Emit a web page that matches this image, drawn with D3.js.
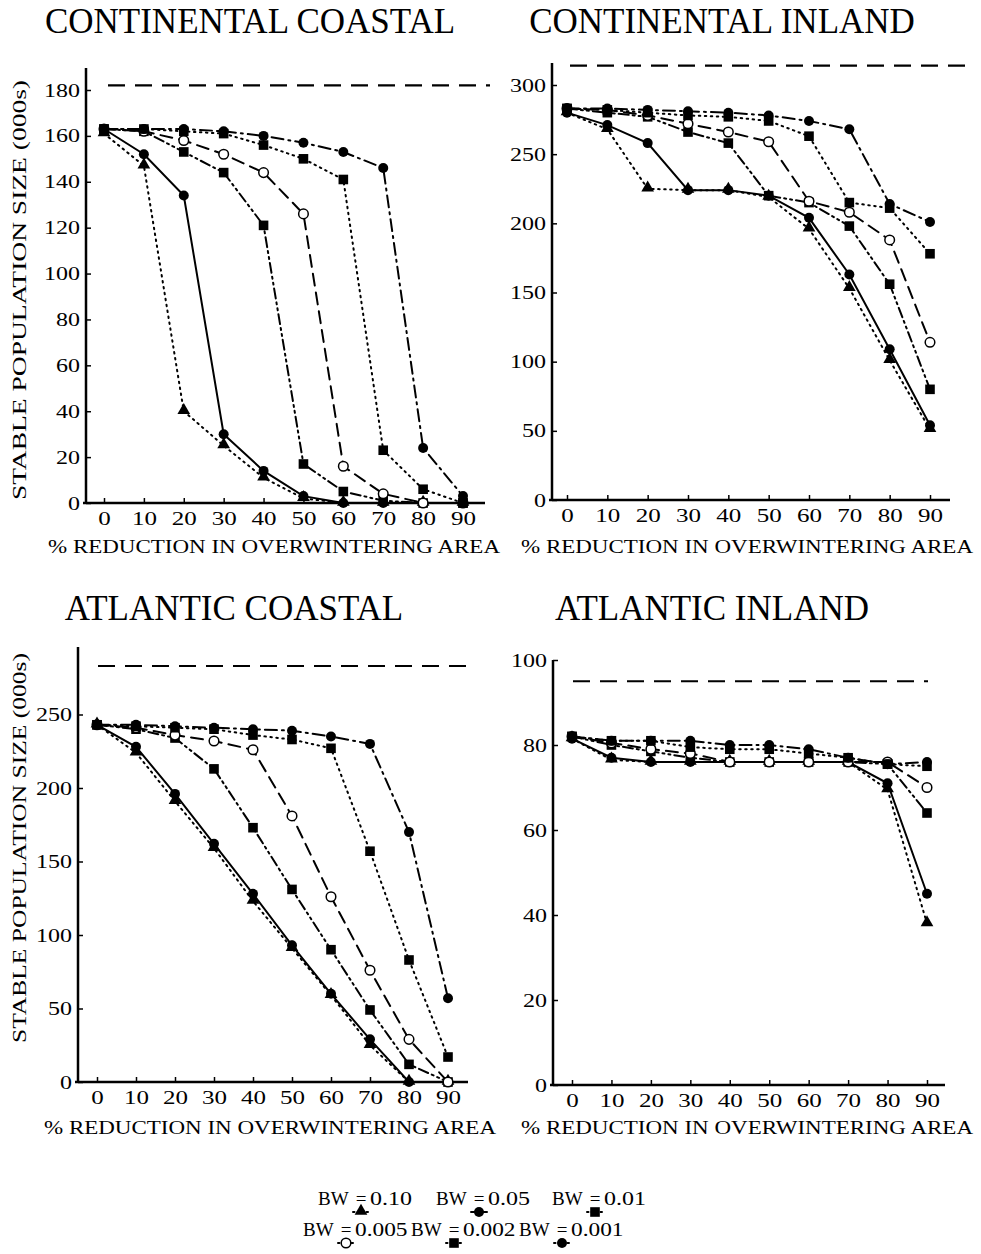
<!DOCTYPE html>
<html lang="en">
<head>
<meta charset="utf-8">
<title>Stable population size vs reduction in overwintering area</title>
<script src="https://d3js.org/d3.v7.min.js"></script>
<style>
  body { margin: 0; background: #fff; }
  svg { display: block; font-family: "Liberation Serif", "Times New Roman", serif; }
  .title { font-size: 35px; }
  .axis-label { font-size: 19px; }
  .tick text { font-size: 19px; font-family: "Liberation Serif", serif; }
  .tick line { stroke: #000; stroke-width: 1.5; }
  .series { fill: none; stroke: #000; stroke-width: 2; stroke-linecap: round; }
  .capacity { stroke: #000; stroke-width: 2.2; stroke-dasharray: 17,10; }
  .legend text { font-size: 19px; }
</style>
</head>
<body>
<svg width="981" height="1254"></svg>
<script>

// x values: % reduction in overwintering area
var reduction = [0, 10, 20, 30, 40, 50, 60, 70, 80, 90];
var bwLabels = ["0.10", "0.05", "0.01", "0.005", "0.002", "0.001"];

// Continental coastal (000s)
var ccBW010  = [161, 147, 40, 25, 11, 2, 0, 0, 0, 0];
var ccBW005  = [163, 152, 134, 30, 14, 3, 0, 0, 0, 0];
var ccBW001  = [163, 162, 153, 144, 121, 17, 5, 1, 0, 0];
var ccBW0005 = [163, 162, 158, 152, 144, 126, 16, 4, 0, 0];
var ccBW0002 = [163, 163, 162, 161, 156, 150, 141, 23, 6, 0];
var ccBW0001 = [163, 163, 163, 162, 160, 157, 153, 146, 24, 3];

// Continental inland
var ciBW010  = [280, 268, 225, 224, 224, 219, 196, 153, 101, 51];
var ciBW005  = [280, 271, 258, 224, 224, 220, 204, 163, 109, 54];
var ciBW001  = [283, 280, 277, 266, 258, 220, 215, 198, 156, 80];
var ciBW0005 = [283, 282, 278, 272, 266, 259, 216, 208, 188, 114];
var ciBW0002 = [283, 282, 280, 278, 277, 274, 263, 215, 211, 178];
var ciBW0001 = [283, 283, 282, 281, 280, 278, 274, 268, 214, 201];

// Atlantic coastal
var acBW010  = [243, 224, 191, 159, 123, 91, 59, 25, 0, 0];
var acBW005  = [243, 228, 196, 162, 128, 93, 60, 29, 0, 0];
var acBW001  = [243, 240, 234, 213, 173, 131, 90, 49, 12, 0];
var acBW0005 = [243, 241, 236, 232, 226, 181, 126, 76, 29, 0];
var acBW0002 = [243, 242, 241, 240, 236, 233, 227, 157, 83, 17];
var acBW0001 = [243, 243, 242, 241, 240, 239, 235, 230, 170, 57];

// Atlantic inland
var aiBW010  = [81.5, 76.5, 76, 76, 76, 76, 76, 76, 69.5, 38];
var aiBW005  = [81.5, 77, 76, 76, 76, 76, 76, 76, 71, 45];
var aiBW001  = [82, 80, 78.5, 77, 76, 76, 76, 76, 75.5, 64];
var aiBW0005 = [82, 80.5, 79, 78, 76, 76, 76, 76, 76, 70];
var aiBW0002 = [82, 81, 81, 79.5, 79, 79, 78, 77, 75.5, 75];
var aiBW0001 = [82, 81, 81, 81, 80, 80, 79, 77, 75.5, 76];

// dashed reference level per panel
var capacity = [182, 314, 283, 95];

// line style + marker for each BW
var seriesDash = ["1.5,4.5", null, "10,4,2,4,2,4", "12,7", "1.5,4.5", "12,5,2,5"];
var seriesMarker = ["triangle", "circle", "square", "open", "square", "circle"];

var svg = d3.select("svg");

// panel layout (pixels)
var panels = [
  { title: "CONTINENTAL COASTAL", data: [ccBW010, ccBW005, ccBW001, ccBW0005, ccBW0002, ccBW0001],
    yMax: 180, yStep: 20, axisX: 86, x0: 104, x90: 463, xEnd: 485, y0: 503, yMaxPx: 90, top: 68,
    capFrom: 108, capTo: 490, titleX: 250, titleY: 33, xlabX: 274, xlabY: 553, ylab: [20, 290, 420] },
  { title: "CONTINENTAL INLAND", data: [ciBW010, ciBW005, ciBW001, ciBW0005, ciBW0002, ciBW0001],
    yMax: 300, yStep: 50, axisX: 552, x0: 567, x90: 930, xEnd: 950, y0: 500, yMaxPx: 85, top: 63,
    capFrom: 570, capTo: 975, titleX: 722, titleY: 33, xlabX: 747, xlabY: 553, ylab: null },
  { title: "ATLANTIC COASTAL", data: [acBW010, acBW005, acBW001, acBW0005, acBW0002, acBW0001],
    yMax: 250, yStep: 50, axisX: 78, x0: 97, x90: 448, xEnd: 468, y0: 1082, yMaxPx: 714.5, top: 647,
    capFrom: 98, capTo: 470, titleX: 234, titleY: 620, xlabX: 270, xlabY: 1134, ylab: [20, 848, 390] },
  { title: "ATLANTIC INLAND", data: [aiBW010, aiBW005, aiBW001, aiBW0005, aiBW0002, aiBW0001],
    yMax: 100, yStep: 20, axisX: 553, x0: 572, x90: 927, xEnd: 945, y0: 1085, yMaxPx: 660, top: 660,
    capFrom: 573, capTo: 928, titleX: 712, titleY: 620, xlabX: 747, xlabY: 1134, ylab: null }
];

function drawMarker(g, kind, cx, cy) {
  if (kind == "triangle") {
    g.append("path").attr("d", d3.symbol().type(d3.symbolTriangle).size(70)())
      .attr("transform", "translate(" + cx + "," + (cy - 1) + ")").attr("fill", "#000");
  } else if (kind == "square") {
    g.append("rect").attr("x", cx - 4.8).attr("y", cy - 4.8).attr("width", 9.6).attr("height", 9.6).attr("fill", "#000");
  } else if (kind == "open") {
    g.append("circle").attr("cx", cx).attr("cy", cy).attr("r", 4.8)
      .attr("fill", "#fff").attr("stroke", "#000").attr("stroke-width", 1.5);
  } else {
    g.append("circle").attr("cx", cx).attr("cy", cy).attr("r", 5).attr("fill", "#000");
  }
}

// the scan's digits are wide; stretch the serif digits to match
function widen(sel, perChar) {
  sel.each(function() {
    var t = d3.select(this);
    t.attr("textLength", t.text().length * perChar).attr("lengthAdjust", "spacingAndGlyphs");
  });
}

panels.forEach(function(p, pi) {
  var x = d3.scaleLinear().domain([0, 90]).range([p.x0, p.x90]);
  var y = d3.scaleLinear().domain([0, p.yMax]).range([p.y0, p.yMaxPx]);
  var g = svg.append("g");

  g.append("text").attr("class", "title")
    .attr("x", p.titleX).attr("y", p.titleY).attr("text-anchor", "middle").text(p.title);

  // axes, ticks pointing inward
  var ya = g.append("g").attr("transform", "translate(" + p.axisX + ",0)")
    .call(d3.axisLeft(y).tickValues(d3.range(0, p.yMax + 1, p.yStep)).tickSize(-5).tickPadding(6));
  ya.select(".domain").remove();
  ya.selectAll(".tick text").attr("fill", "#000").call(widen, 12);

  var xa = g.append("g").attr("transform", "translate(0," + p.y0 + ")")
    .call(d3.axisBottom(x).tickValues(reduction).tickSize(-5).tickPadding(9));
  xa.select(".domain").remove();
  xa.selectAll(".tick text").attr("fill", "#000").call(widen, 12.5);

  g.append("line").attr("x1", p.axisX).attr("x2", p.axisX).attr("y1", p.top).attr("y2", p.y0 + 1)
    .attr("stroke", "#000").attr("stroke-width", 2.5);
  g.append("line").attr("x1", p.axisX - 3).attr("x2", p.xEnd).attr("y1", p.y0).attr("y2", p.y0)
    .attr("stroke", "#000").attr("stroke-width", 2.5);

  g.append("line").attr("class", "capacity")
    .attr("x1", p.capFrom).attr("x2", p.capTo)
    .attr("y1", y(capacity[pi])).attr("y2", y(capacity[pi]));

  g.append("text").attr("class", "axis-label")
    .attr("x", p.xlabX).attr("y", p.xlabY).attr("text-anchor", "middle")
    .attr("textLength", 452).attr("lengthAdjust", "spacingAndGlyphs")
    .text("% REDUCTION IN OVERWINTERING AREA");

  if (p.ylab) {
    g.append("text").attr("class", "axis-label")
      .attr("transform", "translate(" + (p.ylab[0] + 6) + "," + p.ylab[1] + ") rotate(-90)")
      .attr("text-anchor", "middle")
      .attr("textLength", p.ylab[2]).attr("lengthAdjust", "spacingAndGlyphs")
      .text("STABLE POPULATION SIZE (000s)");
  }

  var line = d3.line().x(function(d, i) { return x(reduction[i]); }).y(function(d) { return y(d); });

  p.data.forEach(function(vals, si) {
    g.append("path").attr("class", "series").attr("d", line(vals))
      .attr("stroke-dasharray", seriesDash[si]);
  });
  p.data.forEach(function(vals, si) {
    vals.forEach(function(v, i) {
      drawMarker(g, seriesMarker[si], x(reduction[i]), y(v));
    });
  });
});

// legend: "BW = value", marker sits under the "="
var legend = svg.append("g").attr("class", "legend");
var rowY = [1205, 1236];
var itemX = [318, 436, 552, 303, 411, 519];
bwLabels.forEach(function(lab, i) {
  var ty = rowY[Math.floor(i / 3)], sx = itemX[i];
  legend.append("text").attr("x", sx).attr("y", ty).text("BW");
  legend.append("text").attr("x", sx + 43).attr("y", ty).attr("text-anchor", "middle").text("=");
  legend.append("text").attr("x", sx + 52).attr("y", ty).text(lab).call(widen, 10.5);
  var mx = sx + 43, my = ty + 7;
  legend.append("line").attr("class", "series")
    .attr("x1", mx - 8).attr("x2", mx + 8).attr("y1", my).attr("y2", my)
    .attr("stroke-dasharray", seriesDash[i] ? "1.5,3" : null);
  drawMarker(legend, seriesMarker[i], mx, my);
});
</script>
</body>
</html>
